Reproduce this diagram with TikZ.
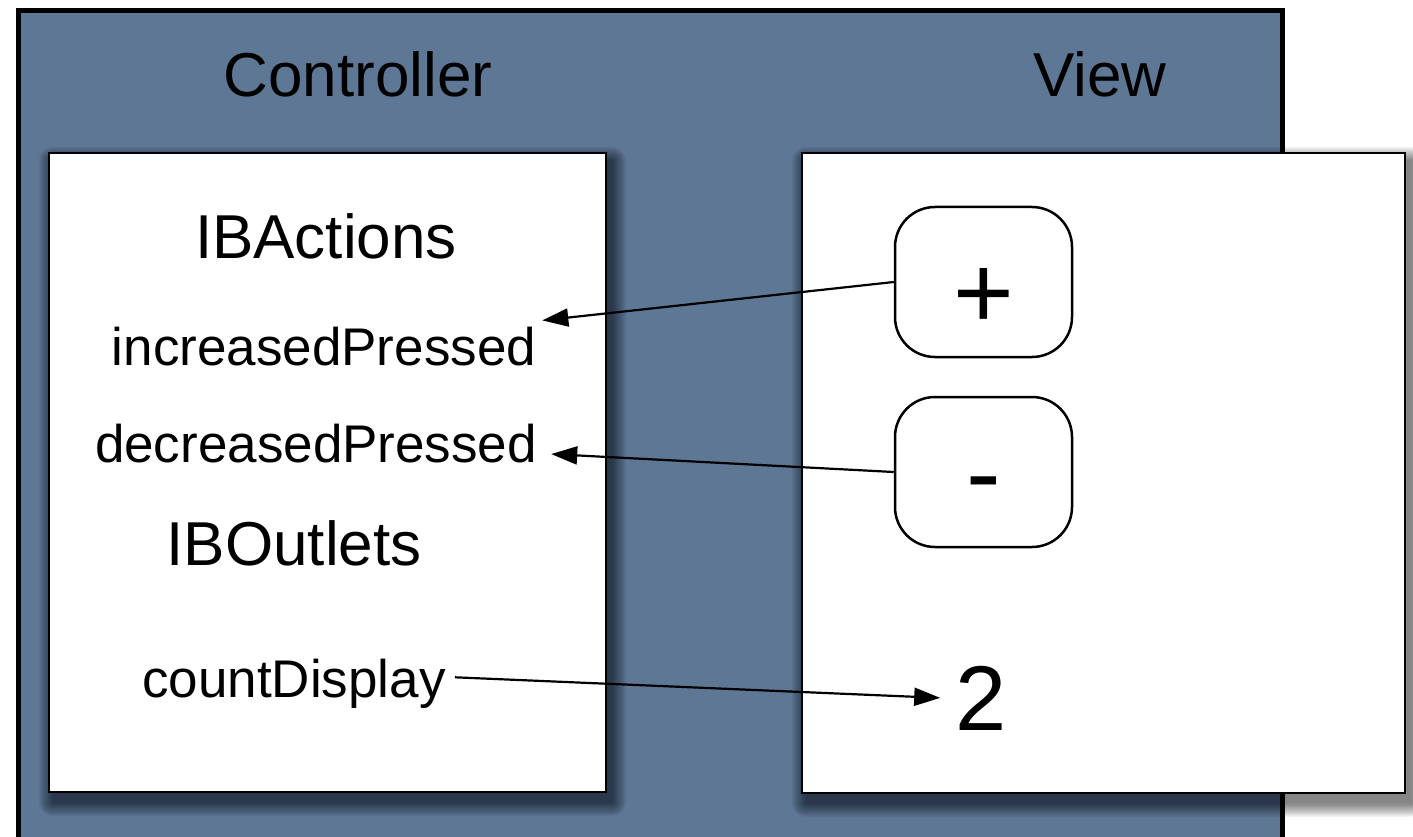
\documentclass[tikz,border=0pt]{standalone}
\usepackage{fontspec}
\setmainfont{Liberation Sans}
\usetikzlibrary{arrows.meta,calc}
\pgfdeclarelayer{back}
\pgfdeclarelayer{shadow}
\pgfsetlayers{back,shadow,main}
\definecolor{panelblue}{RGB}{94,119,149}

% soft drop shadow under a named node, built from stacked translucent layers
\newcommand\softshadow[1]{%
  \begin{pgfonlayer}{shadow}
    \foreach \s in {0,0.5,...,14}{
      \fill[black, opacity=0.02, rounded corners=\s pt]
        ($(#1.north west)+({5-\s},{9-\s})$) rectangle
        ($(#1.south east)+({5+\s},{9+\s})$);
    }
  \end{pgfonlayer}}

\begin{document}
\begin{tikzpicture}[x=1pt,y=-1pt,
  panel/.style={draw=black, line width=5pt, fill=panelblue},
  whitebox/.style={draw=black, line width=2.6pt, fill=white, inner sep=0pt},
  head/.style={font=\fontsize{62}{70}\selectfont, anchor=base, inner sep=6pt},
  item/.style={font=\fontsize{53}{60}\selectfont, anchor=base, inner sep=6pt},
  button/.style={draw=black, line width=2.5pt, fill=white, rounded corners=40pt,
    minimum width=177pt, minimum height=150pt, inner sep=0pt,
    font=\fontsize{104}{110}\selectfont, text depth=0pt},
  conn/.style={line width=2.2pt, -{Triangle[length=26pt,width=18pt]}}]

\useasboundingbox (0,0) rectangle (1413,837);

% blue frame of the window
\begin{pgfonlayer}{back}
  \fill[white] (0,0) rectangle (1413,837);
  \draw[panel] (18.5,10.5) rectangle (1282.5,860);
\end{pgfonlayer}

% the two panes
\node[whitebox, minimum width=557pt, minimum height=639pt] (ctrlbox) at (327.5,472.5) {};
\node[whitebox, minimum width=603pt, minimum height=640pt] (viewbox) at (1103.5,473) {};
\softshadow{ctrlbox}
\softshadow{viewbox}

% titles
\node[head] (ctrl) at (358,97) {Controller};
\node[head] (view) at (1100,97) {View};

% controller contents
\node[head] (actions) at (326,258) {IBActions};
\node[item] (inc) at (324,365) {increasedPressed};
\node[item] (dec) at (316,462) {decreasedPressed};
\node[head] (outlets) at (294,565) {IBOutlets};
\node[item] (cnt) at (294,697) {countDisplay};

% view contents
\node[button, text height=92pt] (plus) at (983.5,282) {+};
\node[button, text height=72pt] (minus) at (983.5,472) {-};
\node[font=\fontsize{92}{100}\selectfont, anchor=base, inner sep=0pt] (two) at (981,730) {2};

% connections
\draw[conn] (plus.west) -- (inc.north east);
\draw[conn] (minus.west) -- ([shift={(8pt,-11pt)}]dec.east);
\draw[conn] ([shift={(3pt,6pt)}]cnt.east) -- ([xshift=-15pt]two.west);
\end{tikzpicture}
\end{document}
